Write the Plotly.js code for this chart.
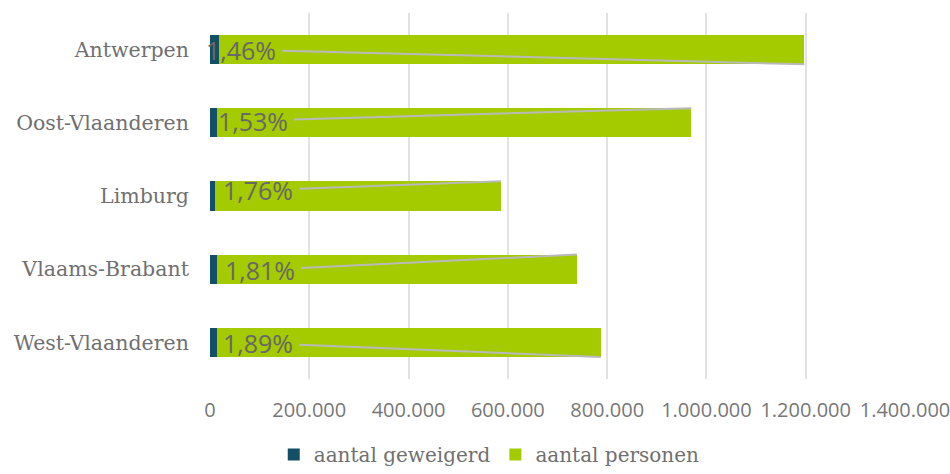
<!DOCTYPE html>
<html>
<head>
<meta charset="utf-8">
<script src="https://cdn.plot.ly/plotly-3.0.1.min.js"></script>
<style>html,body{margin:0;padding:0;background:#fff;}#chart{width:950px;height:474px;}</style>
</head>
<body>
<div id="chart"></div>
<script>
// ---- data ----
var provinces = ["Antwerpen", "Oost-Vlaanderen", "Limburg", "Vlaams-Brabant", "West-Vlaanderen"];
var geweigerd = [17300, 14600, 10100, 13100, 14600];
var personen = [1180000, 955000, 576000, 726000, 772500];
var pctLabels = ["1,46%", "1,53%", "1,76%", "1,81%", "1,89%"];
var xTickVals = [0, 200000, 400000, 600000, 800000, 1000000, 1200000, 1400000];

// ---- layout helpers (label placement) ----
var labelCenterX = [62000, 86000, 97000, 100000, 96000];
var labelDY = [0, -0.03, -0.08, 0.01, 0.01];
var leaderSide = [0.2, -0.2, -0.2, -0.2, 0.2];

var annotations = provinces.map(function (p, i) {
  return {
    x: geweigerd[i] + personen[i], y: i + leaderSide[i],
    xref: 'x', yref: 'y',
    ax: labelCenterX[i], ay: i + labelDY[i],
    axref: 'x', ayref: 'y',
    text: pctLabels[i],
    showarrow: true, arrowhead: 0, arrowwidth: 2, arrowcolor: '#b9b9b9',
    borderpad: 6,
    font: {family: 'Open Sans, sans-serif', size: 25, color: '#686868'}
  };
});

var traces = [
  {type: 'bar', orientation: 'h', name: 'aantal geweigerd', y: provinces, x: geweigerd,
   marker: {color: '#134f66'}, hoverinfo: 'skip'},
  {type: 'bar', orientation: 'h', name: 'aantal personen', y: provinces, x: personen,
   marker: {color: '#a4ca00'}, hoverinfo: 'skip'}
];

var layout = {
  width: 950, height: 474,
  margin: {l: 210, r: 45, t: 13, b: 95},
  paper_bgcolor: '#ffffff', plot_bgcolor: '#ffffff',
  barmode: 'stack', bargap: 0.6,
  separators: ',.',
  showlegend: true,
  legend: {orientation: 'h', xref: 'container', x: 0.515, xanchor: 'center', yref: 'container', y: 0, yanchor: 'bottom',
           font: {family: 'DejaVu Serif, serif', size: 20, color: '#707070'}, traceorder: 'normal',
           itemwidth: 30},
  xaxis: {range: [0, 1400000], tickvals: xTickVals, tickformat: ',d', tickangle: 0, showgrid: true,
          ticklabeloverflow: 'allow',
          gridcolor: '#e2e2e2', gridwidth: 2, zeroline: false, showline: false,
          ticks: 'outside', ticklen: 13, tickcolor: 'rgba(0,0,0,0)', automargin: false,
          tickfont: {family: 'Open Sans, sans-serif', size: 20, color: '#777777'}, fixedrange: true},
  yaxis: {autorange: 'reversed', type: 'category', showgrid: false, zeroline: false, showline: false,
          ticks: 'outside', ticklen: 16, tickcolor: 'rgba(0,0,0,0)', automargin: false,
          tickfont: {family: 'DejaVu Serif, serif', size: 20.5, color: '#707070'}, fixedrange: true},
  annotations: annotations
};

Plotly.newPlot('chart', traces, layout, {displayModeBar: false, staticPlot: true});
</script>
</body>
</html>
